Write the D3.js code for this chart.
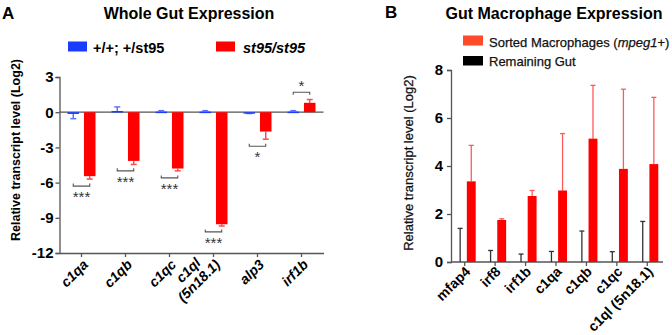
<!DOCTYPE html>
<html><head><meta charset="utf-8">
<script src="https://cdn.jsdelivr.net/npm/d3@7"></script>
<style>
html,body{margin:0;padding:0;background:#fff;}
svg{display:block;font-family:"Liberation Sans",Arial,sans-serif;}
</style></head>
<body>
<svg id="chart" width="672" height="335"></svg>
<script>
// ---------- Panel A data ----------
const catsA = ["c1qa","c1qb","c1qc","c1ql (5n18.1)","alp3","irf1b"];
const seriesA = ["+/+; +/st95","st95/st95"];
const wtA = [-0.15, 0.1, 0.05, 0.05, -0.05, 0.05];
const wtErrA = [0.4, 0.35, 0.08, 0.08, 0.06, 0.08];
const mutA = [-5.45, -4.15, -4.8, -9.55, -1.65, 0.8];
const mutErrA = [0.25, 0.3, 0.2, 0.15, 0.65, 0.28];
const sigA = ["***","***","***","***","*","*"];
const sigYA = [-6.3, -5.0, -5.6, -10.2, -2.9, 1.7];
const ticksA = [3, 0, -3, -6, -9, -12];

// ---------- Panel B data ----------
const catsB = ["mfap4","irf8","irf1b","c1qa","c1qb","c1qc","c1ql (5n18.1)"];
const seriesB = ["Remaining Gut","Sorted Macrophages"];
const remB = [0, 0, 0, 0, 0, 0, 0];
const remErrB = [1.4, 0.48, 0.33, 0.44, 1.29, 0.43, 1.69];
const macB = [3.36, 1.75, 2.75, 2.98, 5.14, 3.88, 4.08];
const macErrB = [1.5, 0.05, 0.23, 2.37, 2.22, 3.32, 2.78];
const ticksB = [0, 2, 4, 6, 8];

const svg = d3.select("#chart");
const AX = "#555";

// ================= Panel A =================
const yA = d3.scaleLinear().domain([-12, 3]).range([253, 77]);
const xA = d3.scaleBand().domain(catsA).range([59.5, 323.5]);
const subA = d3.scaleBand().domain(seriesA).range([-14, 14]).paddingInner(0.3);
const colA = {"+/+; +/st95": "#1a3cff", "st95/st95": "#ff0000"};
const errColA = {"+/+; +/st95": "#5c74ff", "st95/st95": "#ff4a4a"};

svg.append("text").attr("x", 2).attr("y", 19).attr("font-size", 17).attr("font-weight", "bold").text("A");
svg.append("text").attr("x", 189).attr("y", 19).attr("text-anchor", "middle").attr("font-size", 16).attr("font-weight", "bold").text("Whole Gut Expression");

// legend A
const legA = [{s: seriesA[0], x: 68, tx: 93, italic: false}, {s: seriesA[1], x: 216, tx: 243, italic: true}];
legA.forEach(d => {
  svg.append("rect").attr("x", d.x).attr("y", 41.5).attr("width", 19).attr("height", 10).attr("fill", colA[d.s]);
  svg.append("text").attr("x", d.tx).attr("y", 53).attr("font-size", 14.5).attr("font-weight", "bold")
    .attr("font-style", d.italic ? "italic" : "normal").text(d.s);
});

// y axis A
const gyA = svg.append("g").attr("transform", "translate(59.5,0)")
  .call(d3.axisLeft(yA).tickValues(ticksA).tickSize(4).tickPadding(2).tickFormat(d3.format("d")));
gyA.select(".domain").attr("stroke", AX).attr("stroke-width", 1.3);
gyA.selectAll(".tick line").attr("stroke", AX).attr("stroke-width", 1.3);
gyA.selectAll(".tick text").attr("font-size", 15).attr("font-weight", "bold").attr("fill", "#000")
  .attr("font-family", "Liberation Sans, Arial, sans-serif").text(d => d < 0 ? "-" + Math.abs(d) : d);

// bottom axis A
const gxA = svg.append("g").attr("transform", `translate(0,${yA(-12)})`)
  .call(d3.axisBottom(xA).tickSize(4).tickSizeOuter(0).tickFormat(""));
gxA.select(".domain").attr("stroke", AX).attr("stroke-width", 1.3);
gxA.selectAll(".tick line").attr("stroke", AX).attr("stroke-width", 1.3);

// zero line
svg.append("line").attr("x1", 59.5).attr("x2", 323.5).attr("y1", yA(0)).attr("y2", yA(0))
  .attr("stroke", AX).attr("stroke-width", 1.3);

// x labels A
catsA.forEach(c => {
  const cx = xA(c) + xA.bandwidth() / 2;
  const g = svg.append("g").attr("transform", `translate(${cx + 4},${yA(-12) + 9}) rotate(-45)`);
  const parts = c.split(" ");
  if (parts.length === 1) {
    g.append("text").attr("text-anchor", "end").attr("dy", "0.35em").attr("font-size", 14)
      .attr("font-weight", "bold").attr("font-style", "italic").text(c);
  } else {
    const t2 = g.append("text").attr("text-anchor", "end").attr("dy", "0.35em").attr("font-size", 14)
      .attr("font-weight", "bold").attr("font-style", "italic").text(parts[1]);
    const w2 = t2.node().getComputedTextLength();
    g.append("text").attr("text-anchor", "middle").attr("x", -w2 / 2).attr("y", -15).attr("dy", "0.35em")
      .attr("font-size", 14).attr("font-weight", "bold").attr("font-style", "italic").text(parts[0]);
  }
});

// bars A
const dataA = [];
catsA.forEach((c, i) => {
  dataA.push({c, s: seriesA[0], v: wtA[i], e: wtErrA[i]});
  dataA.push({c, s: seriesA[1], v: mutA[i], e: mutErrA[i]});
});
const bx = d => xA(d.c) + xA.bandwidth() / 2 + subA(d.s);
svg.append("g").selectAll("line").data(dataA).join("line")
  .attr("x1", d => bx(d) + subA.bandwidth() / 2).attr("x2", d => bx(d) + subA.bandwidth() / 2)
  .attr("y1", d => yA(d.v)).attr("y2", d => yA(d.v + Math.sign(d.v) * d.e))
  .attr("stroke", d => errColA[d.s]).attr("stroke-width", 1.5);
svg.append("g").selectAll("line").data(dataA).join("line")
  .attr("x1", d => bx(d) + subA.bandwidth() / 2 - 3).attr("x2", d => bx(d) + subA.bandwidth() / 2 + 3)
  .attr("y1", d => yA(d.v + Math.sign(d.v) * d.e)).attr("y2", d => yA(d.v + Math.sign(d.v) * d.e))
  .attr("stroke", d => errColA[d.s]).attr("stroke-width", 1.5);
svg.append("g").selectAll("rect").data(dataA).join("rect")
  .attr("x", bx).attr("width", subA.bandwidth())
  .attr("y", d => Math.min(yA(d.v), yA(0))).attr("height", d => Math.max(1.5, Math.abs(yA(d.v) - yA(0))))
  .attr("fill", d => colA[d.s]);

// significance brackets
catsA.forEach((c, i) => {
  const x1 = xA(c) + xA.bandwidth() / 2 + subA(seriesA[0]) + subA.bandwidth() / 2;
  const x2 = xA(c) + xA.bandwidth() / 2 + subA(seriesA[1]) + subA.bandwidth() / 2;
  const y = yA(sigYA[i]);
  const up = sigYA[i] < 0; // ticks toward bars
  const tk = up ? -2.5 : 2.5;
  svg.append("path").attr("d", `M${x1},${y + tk}V${y}H${x2}V${y + tk}`)
    .attr("fill", "none").attr("stroke", "#555").attr("stroke-width", 1.1);
  svg.append("text").attr("x", (x1 + x2) / 2).attr("y", up ? y + 16 : y - 1)
    .attr("text-anchor", "middle").attr("font-size", 15).attr("fill", "#333").text(sigA[i]);
});

// y label A
svg.append("text").attr("transform", "translate(19.5,150) rotate(-90)").attr("text-anchor", "middle")
  .attr("font-size", 12.5).attr("font-weight", "bold").text("Relative transcript level (Log2)");

// ================= Panel B =================
const yB = d3.scaleLinear().domain([0, 8]).range([262, 70]);
const xB = d3.scaleBand().domain(catsB).range([449.5, 662.5]);
const subB = d3.scaleBand().domain(seriesB).range([-9, 11]).paddingInner(0.2);

svg.append("text").attr("x", 385).attr("y", 18).attr("font-size", 17).attr("font-weight", "bold").text("B");
svg.append("text").attr("x", 554).attr("y", 19).attr("text-anchor", "middle").attr("font-size", 16).attr("font-weight", "bold").text("Gut Macrophage Expression");

// legend B
svg.append("rect").attr("x", 463).attr("y", 35.5).attr("width", 20).attr("height", 10).attr("fill", "#ff4a2a");
const lt = svg.append("text").attr("x", 489).attr("y", 46.5).attr("font-size", 13).attr("fill", "#111")
  .attr("stroke", "#111").attr("stroke-width", 0.25);
lt.append("tspan").text("Sorted Macrophages (");
lt.append("tspan").attr("font-style", "italic").text("mpeg1+");
lt.append("tspan").text(")");
svg.append("rect").attr("x", 463).attr("y", 56).attr("width", 20).attr("height", 9.5).attr("fill", "#000");
svg.append("text").attr("x", 489).attr("y", 65.5).attr("font-size", 13).attr("fill", "#111")
  .attr("stroke", "#111").attr("stroke-width", 0.25).text(seriesB[0]);

// y axis B
const gyB = svg.append("g").attr("transform", "translate(451,0)")
  .call(d3.axisLeft(yB).tickValues(ticksB).tickSize(4).tickPadding(4).tickFormat(d3.format("d")));
gyB.select(".domain").attr("stroke", AX).attr("stroke-width", 1.3);
gyB.selectAll(".tick line").attr("stroke", AX).attr("stroke-width", 1.3);
gyB.selectAll(".tick text").attr("font-size", 15).attr("font-weight", "bold").attr("fill", "#000")
  .attr("font-family", "Liberation Sans, Arial, sans-serif");

// x axis B
const gxB = svg.append("g").attr("transform", `translate(0,${yB(0)})`)
  .call(d3.axisBottom(xB).tickSize(4).tickSizeOuter(0).tickFormat(""));
gxB.select(".domain").attr("stroke", AX).attr("stroke-width", 1.3).attr("d", `M451,0H663`);
gxB.selectAll(".tick line").attr("stroke", AX).attr("stroke-width", 1.3);

catsB.forEach(c => {
  const cx = xB(c) + xB.bandwidth() / 2;
  svg.append("text").attr("transform", `translate(${cx + 3},${yB(0) + 7}) rotate(-45)`)
    .attr("text-anchor", "end").attr("dy", "0.35em").attr("font-size", 14).attr("font-weight", "bold").text(c);
});

// bars B
const dataB = [];
catsB.forEach((c, i) => {
  dataB.push({c, s: seriesB[0], v: remB[i], e: remErrB[i]});
  dataB.push({c, s: seriesB[1], v: macB[i], e: macErrB[i]});
});
const colB = {"Remaining Gut": "#000", "Sorted Macrophages": "#ff0000"};
const errColB = {"Remaining Gut": "#333", "Sorted Macrophages": "#ff5a5a"};
const bxB = d => xB(d.c) + xB.bandwidth() / 2 + subB(d.s);
const midB = d => bxB(d) + subB.bandwidth() / 2;
svg.append("g").selectAll("line").data(dataB).join("line")
  .attr("x1", midB).attr("x2", midB)
  .attr("y1", d => yB(d.v)).attr("y2", d => yB(d.v + d.e))
  .attr("stroke", d => errColB[d.s]).attr("stroke-width", 1.3);
svg.append("g").selectAll("line").data(dataB).join("line")
  .attr("x1", d => midB(d) - 2.5).attr("x2", d => midB(d) + 2.5)
  .attr("y1", d => yB(d.v + d.e)).attr("y2", d => yB(d.v + d.e))
  .attr("stroke", d => errColB[d.s]).attr("stroke-width", 1.3);
svg.append("g").selectAll("rect").data(dataB).join("rect")
  .attr("x", bxB).attr("width", subB.bandwidth())
  .attr("y", d => yB(d.v)).attr("height", d => yB(0) - yB(d.v))
  .attr("fill", d => colB[d.s]);

// y label B
svg.append("text").attr("transform", "translate(413,163) rotate(-90)").attr("text-anchor", "middle")
  .attr("font-size", 13).attr("fill", "#111").attr("stroke", "#111").attr("stroke-width", 0.25)
  .text("Relative transcript level (Log2)");
</script>
</body></html>
